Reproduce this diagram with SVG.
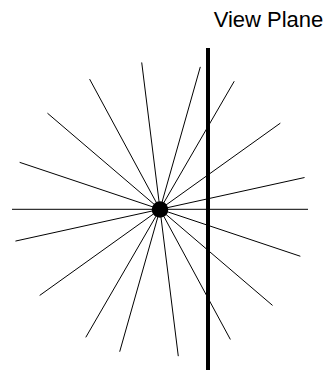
<svg xmlns="http://www.w3.org/2000/svg" width="331" height="370" viewBox="0 0 331 370">
<style>
.ray{stroke:#000;stroke-width:1;fill:none}
.plane{stroke:#000;stroke-width:4;fill:none}
.lbl{font-family:"Liberation Sans",Arial,sans-serif;font-size:22px;fill:#000}
</style>
<rect width="331" height="370" fill="#fff"/>
<g id="connectors">
<line class="ray" x1="308" y1="209.3" x2="12" y2="209.3"/>
<line class="ray" x1="304.55" y1="177.52" x2="15.45" y2="241.08"/>
<line class="ray" x1="280.34" y1="123.15" x2="39.66" y2="295.45"/>
<line class="ray" x1="234.22" y1="81.25" x2="85.78" y2="337.35"/>
<line class="ray" x1="200.3" y1="66.89" x2="119.7" y2="351.71"/>
<line class="ray" x1="141.71" y1="62.44" x2="178.29" y2="356.16"/>
<line class="ray" x1="89.61" y1="79.12" x2="230.39" y2="339.48"/>
<line class="ray" x1="47.46" y1="113.19" x2="272.54" y2="305.41"/>
<line class="ray" x1="19.65" y1="162.34" x2="300.35" y2="256.26"/>
</g>
<g id="view-plane">
<line class="plane" x1="208" y1="48" x2="208" y2="370"/>
<text class="lbl" x="268.5" y="27" text-anchor="middle">View Plane</text>
</g>
<g id="eye">
<circle cx="160" cy="209.5" r="8.3" fill="#000"/>
</g>
</svg>
